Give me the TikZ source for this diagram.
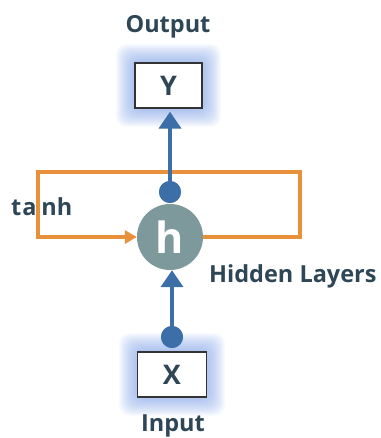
\documentclass[tikz,border=0pt]{standalone}
\usepackage{fontspec}
\setmainfont{Open Sans}
\usetikzlibrary{arrows.meta}
\definecolor{wire}{HTML}{3C6EA8}
\definecolor{loopc}{HTML}{E8903A}
\definecolor{cellc}{HTML}{7E999C}
\definecolor{labelc}{HTML}{2E4656}
\definecolor{glowc}{HTML}{6F95E4}
\tikzset{
  lbl/.style={text=labelc, font=\bfseries\fontsize{23.5}{27}\selectfont, inner sep=0pt, anchor=base},
  iobox/.style={draw=black!80, line width=1.3pt, fill=white, minimum width=67pt, minimum height=45pt,
    text=labelc, font=\bfseries\fontsize{27}{30}\selectfont, inner sep=0pt},
  dot/.style={circle, fill=wire, minimum size=22pt, inner sep=0pt},
  cell/.style={circle, fill=cellc, minimum size=66pt, inner sep=0pt, text=white,
    font=\bfseries\fontsize{43}{45}\selectfont},
  wireline/.style={draw=wire, line width=4pt, -{Triangle[width=22pt,length=17pt]}},
  loopline/.style={draw=loopc, line width=3.5pt, -{Triangle[width=13pt,length=12pt]}},
  glow/.style={fill=glowc, fill opacity=0.045, draw=none, rounded corners=10pt}
}
\begin{document}
\begin{tikzpicture}[x=1pt,y=-1pt]
\useasboundingbox (0,0) rectangle (380,438);
% soft halos behind the input and output boxes
\foreach \e in {1,2,...,19}{
  \fill[glow] (135-\e,63-\e) rectangle (202+\e,108+\e);
  \fill[glow] (138-\e,352-\e) rectangle (206+\e,397+\e);
}
% text labels
\node[lbl] (outlbl) at (168,33) {Output};
\node[lbl] (inlbl) at (173,431) {Input};
\node[lbl, anchor=base west] (hidlbl) at (209,282) {Hidden Layers};
% boxes and hidden cell
\node[iobox] (ybox) at (168.5,85.5) {Y};
\node[iobox, minimum width=69pt] (xbox) at (172,374.5) {X};
\node[cell] (h) at (170,237) {h};
% recurrent loop
\coordinate (loopR) at (300,172);
\coordinate (loopL) at (38,172);
\draw[loopline] (h.east) -| (loopR) -- (loopL) |- (h.west);
\node[lbl, anchor=base west] (tanhlbl) at (11,215) {t\kern0.9pt a\kern5pt nh};
% input and output connections
\node[dot] (topdot) at (170,192) {};
\node[dot] (botdot) at (172,337) {};
\draw[wireline, shorten >=3pt] (topdot) -- (ybox.south -| topdot);
\draw[wireline] (botdot) -- (h.south -| botdot);
\node[dot] at (topdot) {};
\node[dot] at (botdot) {};
\end{tikzpicture}
\end{document}
